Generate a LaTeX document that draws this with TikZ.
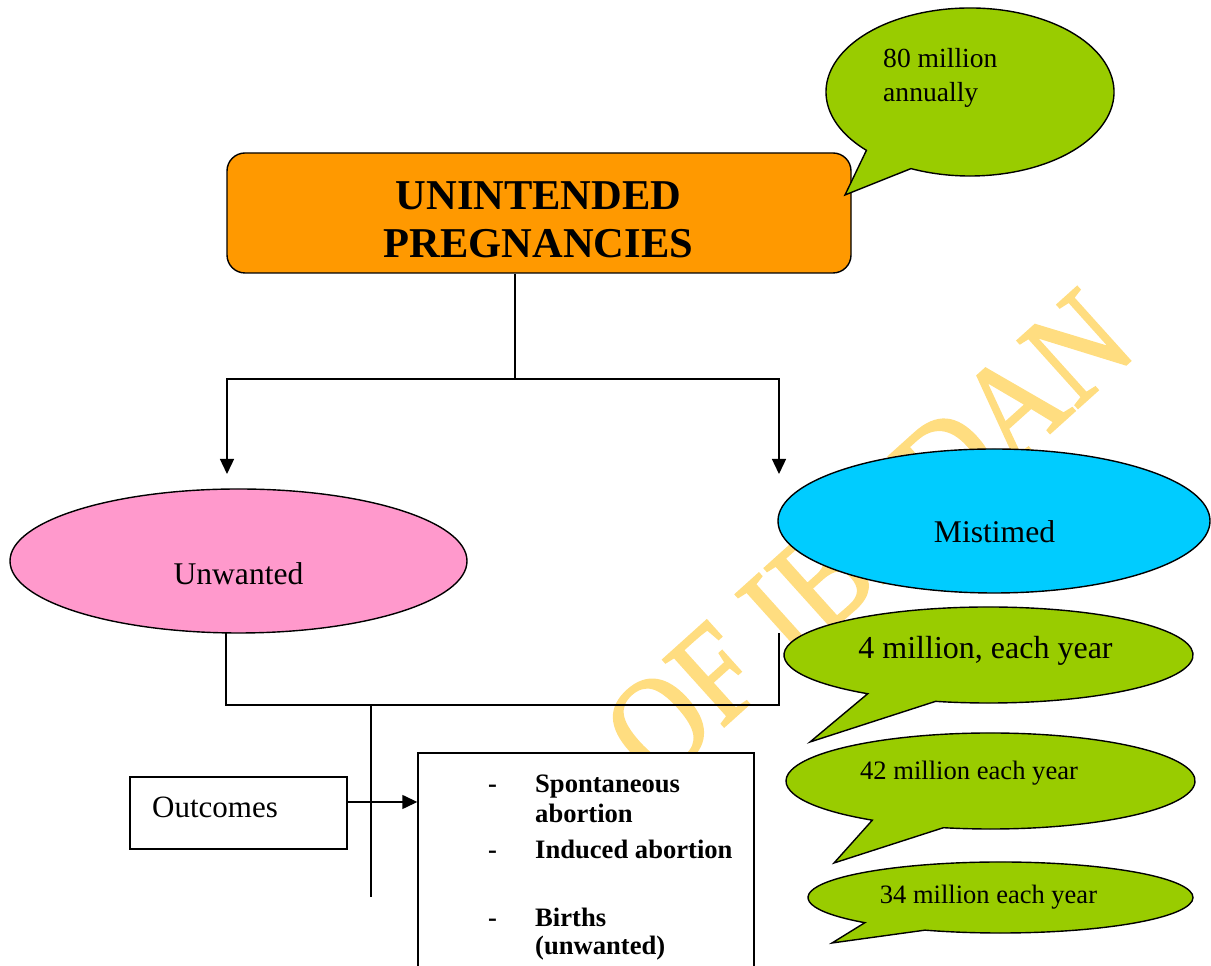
\documentclass[tikz,border=0pt]{standalone}
\usepackage{fontspec}
\setmainfont{Liberation Serif}
\newfontfamily\wmfont[FakeBold=1.6]{Liberation Serif}
\usetikzlibrary{arrows.meta,shapes.geometric}
\definecolor{boxorange}{HTML}{FF9900}
\definecolor{unwpink}{HTML}{FF99CC}
\definecolor{mistcyan}{HTML}{00CCFF}
\definecolor{bubgreen}{HTML}{99CC00}
\definecolor{wmyellow}{RGB}{255,221,128}
\begin{document}
\begin{tikzpicture}[x=1pt,y=1pt,
  conn/.style={line width=1.4pt},
  arr/.style={conn,-{Triangle[length=15pt,width=14pt]}},
  shapeline/.style={draw=black,line width=1.4pt},
  bubble/.style={shapeline,fill=bubgreen,line join=miter},
  txt/.style={inner sep=0pt,text=black},
  oval/.style={ellipse,shapeline,inner sep=0pt}]
\useasboundingbox (0,0) rectangle (1211,966);
\begin{scope}
\clip (0,0) rectangle (1211,966);
% watermark
\node[txt,rotate=42,anchor=base east,text=wmyellow,font=\wmfont\fontsize{138}{138}\selectfont] (wm) at (1140,614) {\scalebox{0.87}[1]{OF IBADAN}};

% main box
\node[shapeline,fill=boxorange,rounded corners=18pt,minimum width=624pt,minimum height=120pt,inner sep=0pt] (main) at (539,753) {};
\node[txt,anchor=base,font=\fontsize{42.5}{48}\selectfont\bfseries] (t1) at (538.5,756) {UNINTENDED};
\node[txt,anchor=base,font=\fontsize{42.5}{48}\selectfont\bfseries] (t2) at (538.5,708) {PREGNANCIES};

% 80 million bubble
\coordinate (b0) at (970,874);
\coordinate (b0tip) at (845,771);
\filldraw[bubble] (b0) ++(245.8:144 and 84) arc[start angle=245.8,end angle=584,x radius=144,y radius=84] -- (b0tip) -- cycle;
\node[txt,anchor=base west,font=\fontsize{27.6}{34}\selectfont] (b0a) at (883,898) {80 million};
\node[txt,anchor=base west,font=\fontsize{27.6}{34}\selectfont] (b0b) at (883,864) {annually};

% ellipses
\node[oval,fill=unwpink,minimum width=457pt,minimum height=144pt] (unw) at (238.5,405) {};
\node[txt,anchor=base,font=\fontsize{31.6}{36}\selectfont] (unwt) at (238.5,381) {Unwanted};
\node[oval,fill=mistcyan,minimum width=432pt,minimum height=144pt] (mis) at (994,445) {};
\node[txt,anchor=base,font=\fontsize{31.6}{36}\selectfont] (mist) at (994.5,423) {Mistimed};

% upper connectors
\coordinate (m1) at ([xshift=-24pt]main.south);
\coordinate (j) at (515,587);
\coordinate (tl) at (227,492);
\coordinate (tr) at (779,492);
\draw[conn] (m1) -- (j);
\draw[arr] (j) -| (tl);
\draw[arr] (j) -| (tr);

% lower connectors
\coordinate (u1) at (226,334);
\coordinate (bl) at (226,261);
\coordinate (br) at (779,261);
\coordinate (b1) at (779,333);
\coordinate (bj) at (371,261);
\coordinate (be) at (371,69);
\draw[conn,line join=miter] (u1) -- (bl) -- (br) -- (b1);
\draw[conn] (bj) -- (be);

% outcomes
\node[shapeline,fill=white,minimum width=217pt,minimum height=72pt,inner sep=0pt] (outc) at (238.5,153) {};
\node[txt,anchor=base west,font=\fontsize{31}{36}\selectfont] (outct) at (152,148) {Outcomes};
\node[shapeline,fill=white,minimum width=336pt,minimum height=243pt,inner sep=0pt] (outl) at (586,91.5) {};
\coordinate (ao) at ([yshift=11pt]outc.east);
\draw[arr] (ao) -- (ao -| outl.west);

\begin{scope}[every node/.style={txt,anchor=base west,font=\fontsize{26.6}{30}\selectfont\bfseries}]
\node (d1) at (488,173) {-};
\node (l1) at (535,173) {Spontaneous};
\node (l2) at (535,143) {abortion};
\node (d2) at (488,107) {-};
\node (l3) at (535,107) {Induced abortion};
\node (d3) at (488,39) {-};
\node (l4) at (535,39) {Births};
\node (l5) at (535,11) {(unwanted)};
\end{scope}

% green bubbles
\coordinate (c1) at (988.5,311);
\filldraw[bubble] (c1) ++(255:204.5 and 48) arc[start angle=255,end angle=593.8,x radius=204.5,y radius=48] -- (810,224) -- cycle;
\node[txt,anchor=base,font=\fontsize{32}{36}\selectfont] (g1) at (985.5,307) {4 million, each year};

\coordinate (c2) at (990.5,185);
\filldraw[bubble] (c2) ++(256.7:204.5 and 48) arc[start angle=256.7,end angle=594.7,x radius=204.5,y radius=48] -- (834,103) -- cycle;
\node[txt,anchor=base,font=\fontsize{26.6}{30}\selectfont] (g2) at (969,186) {42 million each year};

\coordinate (c3) at (1000.5,68.5);
\filldraw[bubble] (c3) ++(246.9:192.5 and 35.5) arc[start angle=246.9,end angle=585.2,x radius=192.5,y radius=35.5] -- (832,23) -- cycle;
\node[txt,anchor=base,font=\fontsize{26.5}{30}\selectfont] (g3) at (988.5,62) {34 million each year};
\end{scope}
\end{tikzpicture}
\end{document}
